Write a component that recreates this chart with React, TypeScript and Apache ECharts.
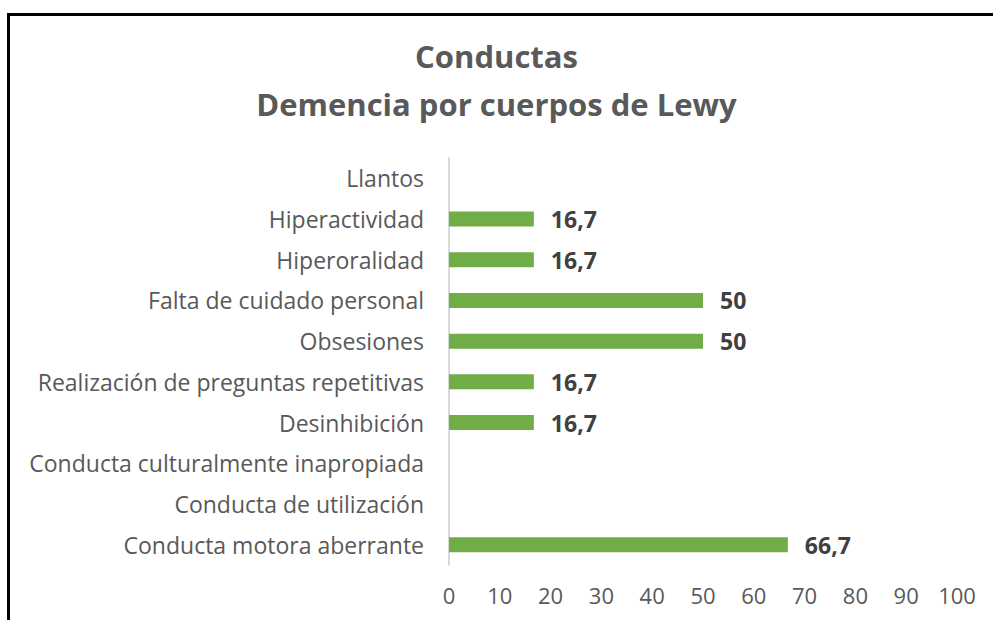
import React, { useEffect, useRef } from "react";
import * as echarts from "echarts";

const titleLines = ["Conductas", "Demencia por cuerpos de Lewy"];
// bottom to top
const categories = [
  "Conducta motora aberrante",
  "Conducta de utilización",
  "Conducta culturalmente inapropiada",
  "Desinhibición",
  "Realización de preguntas repetitivas",
  "Obsesiones",
  "Falta de cuidado personal",
  "Hiperoralidad",
  "Hiperactividad",
  "Llantos",
];
const values = [66.7, 0, 0, 16.7, 16.7, 50, 50, 16.7, 16.7, 0];
const xTicks = { min: 0, max: 100, interval: 10 };

const FONT = "Open Sans";

export default function App() {
  const ref = useRef<HTMLDivElement>(null);
  useEffect(() => {
    const chart = echarts.init(ref.current!, undefined, { renderer: "svg" });
    chart.setOption({
      animation: false,
      backgroundColor: "#ffffff",
      title: {
        text: titleLines.join("\n"),
        left: "center",
        top: 27,
        textStyle: {
          fontFamily: FONT,
          fontSize: 31,
          fontWeight: "bold",
          color: "#595959",
          lineHeight: 48,
        },
      },
      graphic: [
        { type: "rect", shape: { x: 7, y: 13, width: 993, height: 3 }, style: { fill: "#000" } },
        { type: "rect", shape: { x: 7, y: 13, width: 3, height: 620 }, style: { fill: "#000" } },
      ],
      grid: { left: 449, right: 36, top: 158, bottom: 55, containLabel: false },
      xAxis: {
        type: "value",
        min: xTicks.min,
        max: xTicks.max,
        interval: xTicks.interval,
        axisLine: { show: false },
        axisTick: { show: false },
        splitLine: { show: false },
        axisLabel: {
          fontFamily: FONT,
          fontSize: 22,
          color: "#595959",
          margin: 19,
        },
      },
      yAxis: {
        type: "category",
        data: categories,
        axisLine: { show: true, lineStyle: { color: "#D9D9D9", width: 2 } },
        axisTick: { show: false },
        axisLabel: {
          fontFamily: FONT,
          fontSize: 23,
          color: "#595959",
          margin: 25,
        },
      },
      series: [
        {
          type: "bar",
          data: values,
          barWidth: 15,
          itemStyle: { color: "#70AD47" },
          label: {
            show: true,
            position: "right",
            distance: 17,
            fontFamily: FONT,
            fontSize: 23,
            fontWeight: "bold",
            color: "#404040",
            formatter: (p: any) =>
              p.value ? String(p.value).replace(".", ",") : "",
          },
        },
      ],
    });
    return () => chart.dispose();
  }, []);
  return (
    <div
      ref={ref}
      style={{ position: "fixed", left: 0, top: 0, width: 993, height: 620 }}
    />
  );
}
